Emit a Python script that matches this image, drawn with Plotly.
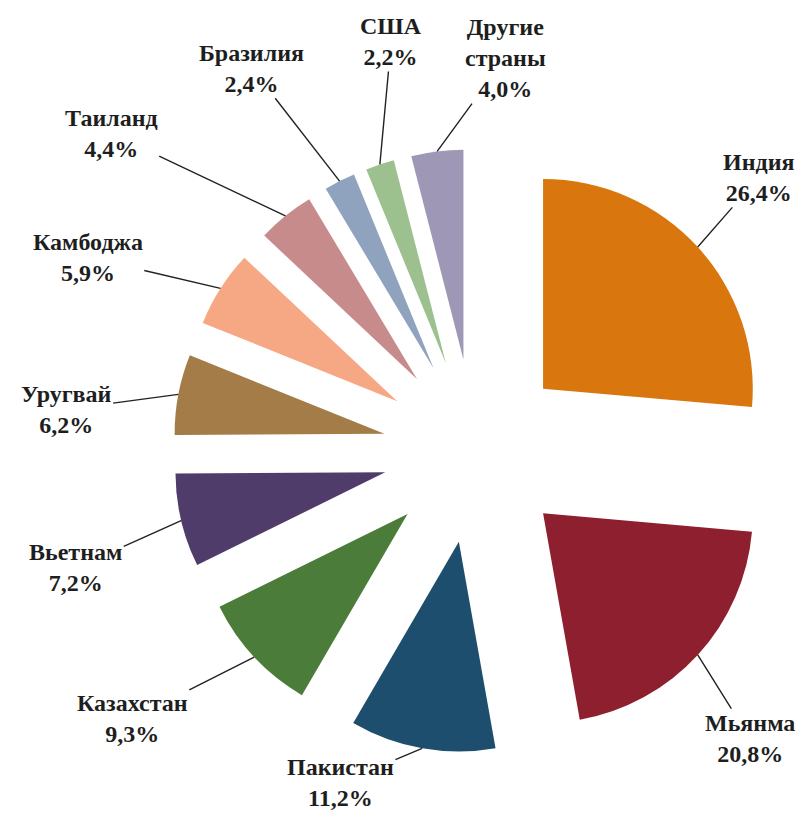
import math
import plotly.graph_objects as go

countries = ["Индия", "Мьянма", "Пакистан", "Казахстан", "Вьетнам", "Уругвай",
             "Камбоджа", "Таиланд", "Бразилия", "США", "Другие<br>страны"]
shares = [26.4, 20.8, 11.2, 9.3, 7.2, 6.2, 5.9, 4.4, 2.4, 2.2, 4.0]
colors = ["#D9770E", "#8E1F2E", "#1D4E6E", "#4B7C3A", "#503C6A", "#A37C48",
          "#F6A885", "#C78B8C", "#8FA3BE", "#9DC08F", "#9F97B6"]

# label placement (style): angular nudge (deg) and distance from pie centre (px)
label_nudge = [-1.5, 3.8, 12, 5, -3, -5, -6, -10, -3.6, 6.8, 11.6]
label_radius = [394, 398, 358, 435, 416, 411, 433, 483, 443, 418, 394]

# page body has an 8px margin; the figure is sized so the page fits the window
OFF = 8
W, H = 806 - 2 * OFF, 822 - 2 * OFF
PULL = 0.44
CX, CY, HALF = 475 - OFF, 451 - OFF, 302
dom_x = [(CX - HALF) / W, (CX + HALF) / W]
dom_y = [1 - (CY + HALF) / H, 1 - (CY - HALF) / H]

fig = go.Figure(go.Pie(
    labels=[c.replace("<br>", " ") for c in countries],
    values=shares,
    sort=False,
    direction="clockwise",
    rotation=0,
    pull=[PULL] * len(shares),
    marker=dict(colors=colors, line=dict(width=0)),
    textinfo="none",
    hoverinfo="label+percent",
    showlegend=False,
    domain=dict(x=dom_x, y=dom_y),
))

# geometry mirroring plotly's pie layout
boxW = W * (dom_x[1] - dom_x[0])
boxH = H * (dom_y[1] - dom_y[0])
r = min(boxW, boxH) / (2 + 2 * PULL)
cx = W * (dom_x[0] + dom_x[1]) / 2
cy = H * (1 - dom_y[0]) - boxH / 2
tip_dist = r * (1 + PULL)

total = sum(shares)
cum = 0.0
annotations = []
for name, v, nudge, lr in zip(countries, shares, label_nudge, label_radius):
    mid = math.radians(360 * (cum + v / 2) / total)
    cum += v
    px = cx + tip_dist * math.sin(mid)
    py = cy - tip_dist * math.cos(mid)
    la = mid + math.radians(nudge)
    lx = cx + lr * math.sin(la)
    ly = cy - lr * math.cos(la)
    pct = f"{v:.1f}".replace(".", ",") + "%"
    lines = name.split("<br>") + [pct]
    annotations.append(dict(
        x=px / W, y=1 - py / H, xref="paper", yref="paper",
        text="<br>".join(f"<b>{s}</b>" for s in lines),
        showarrow=True, arrowhead=0, arrowwidth=1.4, arrowcolor="#222222",
        ax=lx - px, ay=ly - py,
        font=dict(family="'Liberation Serif', 'Times New Roman', serif", size=24, color="#1e1e1e"),
        align="center",
    ))

fig.update_layout(
    width=W, height=H,
    margin=dict(l=0, r=0, t=0, b=0),
    paper_bgcolor="white", plot_bgcolor="white",
    annotations=annotations,
)

fig.write_html("out.html")
